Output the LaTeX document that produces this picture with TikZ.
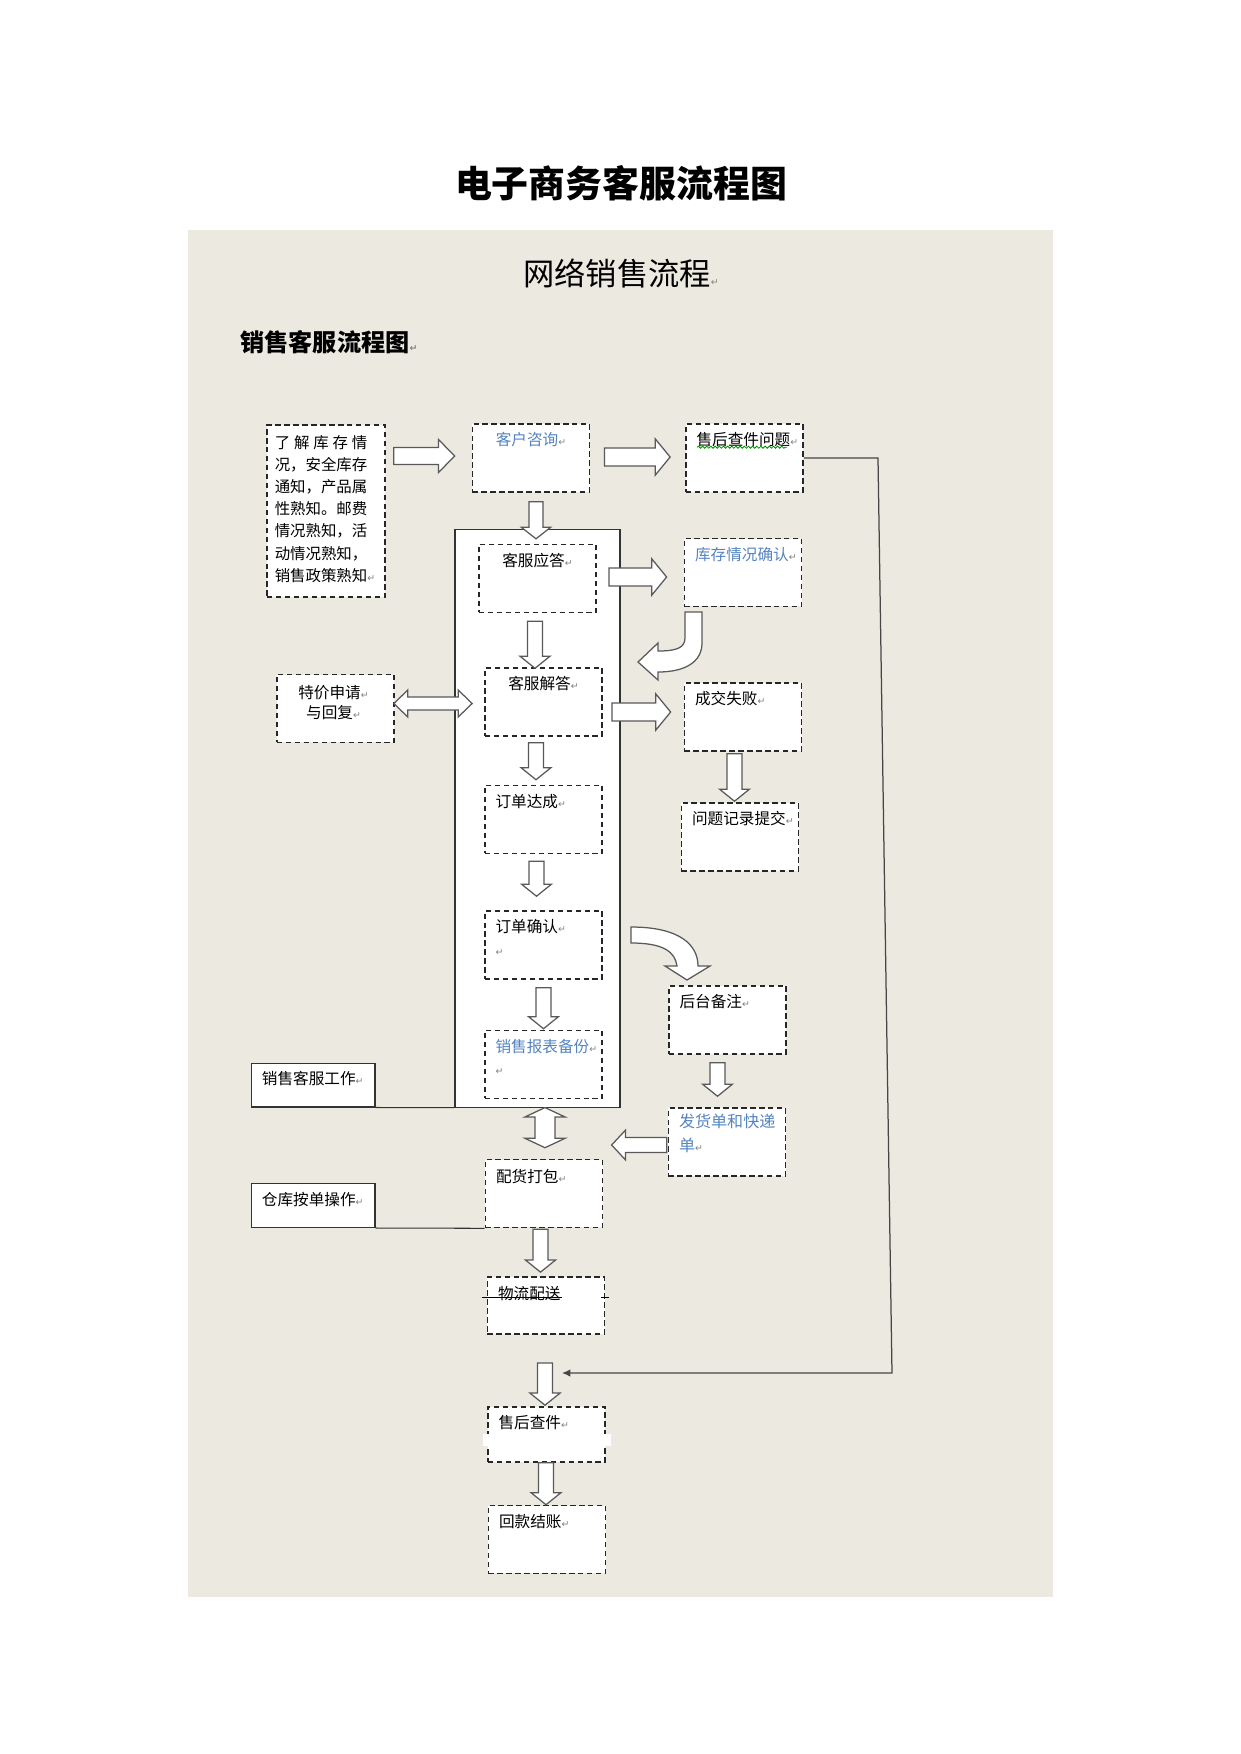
\documentclass[tikz,border=0pt]{standalone}
\usepackage{fontspec}
\setmainfont{Noto Sans CJK SC}
\newfontfamily\dejavu{DejaVu Sans}
\usepackage{tikz}
\usetikzlibrary{positioning, calc, arrows.meta, decorations.pathmorphing}

\definecolor{bgbeige}{RGB}{236,233,224}
\definecolor{txtblue}{RGB}{84,132,192}
\definecolor{linegray}{RGB}{70,70,70}

% 段落标记
\newcommand{\pmark}{{\dejavu\fontsize{4.5}{5}\selectfont\color{gray}↵}}

% 空心块箭头：轴半宽, 头半宽, 头长, 尾, 尖
\newcommand{\blkarr}[5]{%
  \path #4 coordinate (bt) #5 coordinate (bh);
  \path ($(bh)!#3!(bt)$) coordinate (bb);
  \draw[blk] ($(bt)!#1!90:(bh)$) -- ($(bb)!#1!90:(bh)$) -- ($(bb)!#2!90:(bh)$) -- (bh)
    -- ($(bb)!#2!-90:(bh)$) -- ($(bb)!#1!-90:(bh)$) -- ($(bt)!#1!-90:(bh)$) -- cycle;}
\newcommand{\vblk}[2]{\blkarr{3.6pt}{7.2pt}{5.8pt}{#1}{#2}}
\newcommand{\hblk}[2]{\blkarr{4.3pt}{8.8pt}{7.2pt}{#1}{#2}}

% 双向块箭头：轴半宽, 头半宽, 头长, 端点1, 端点2
\newcommand{\dblarr}[5]{%
  \path #4 coordinate (da) #5 coordinate (db);
  \path ($(da)!#3!(db)$) coordinate (dA) ($(db)!#3!(da)$) coordinate (dB);
  \draw[blk] (da) -- ($(dA)!#2!90:(db)$) -- ($(dA)!#1!90:(db)$) -- ($(dB)!#1!-90:(da)$)
    -- ($(dB)!#2!-90:(da)$) -- (db) -- ($(dB)!#2!90:(da)$) -- ($(dB)!#1!90:(da)$)
    -- ($(dA)!#1!-90:(db)$) -- ($(dA)!#2!-90:(db)$) -- cycle;}

\tikzset{
  dbox/.style={draw=black!85, line width=0.8pt, dash pattern=on 2.6pt off 1.7pt,
    fill=white, minimum width=56.2pt, minimum height=32.6pt, inner sep=0pt},
  sbox/.style={draw=black!80, line width=0.5pt, fill=white,
    minimum width=59.5pt, minimum height=21.1pt, inner sep=0pt},
  blk/.style={draw=black!65, fill=white, line width=0.6pt, line join=miter},
  txt/.style={inner sep=0pt, text=black, font=\fontsize{7.5}{9.5}\selectfont},
  btxt/.style={txt, anchor=west, xshift=5.3pt, yshift=-7.9pt},
  ctxt/.style={txt, anchor=center, yshift=-8pt},
}

\begin{document}
\begin{tikzpicture}[x=0.48pt, y=-0.48pt]
  \useasboundingbox (0,0) rectangle (1241,1754);
  \fill[white] (0,0) rectangle (1241,1754);
  \fill[bgbeige] (188,230) rectangle (1053,1597);

  % 标题
  \node[inner sep=0pt, font=\fontsize{17.7}{20}\selectfont\bfseries] (title) at (621,183) {电子商务客服流程图};
  \node[inner sep=0pt, anchor=west, font=\fontsize{15}{18}\selectfont] (subtitle) at (523,273) {网络销售流程\pmark};
  \node[inner sep=0pt, anchor=west, font=\fontsize{11.6}{14}\selectfont\bfseries] (heading) at (240,342) {销售客服流程图\pmark};

  % 销售客服外框
  \node[draw=black!80, line width=0.5pt, fill=white, minimum width=79.2pt,
    minimum height=277pt, inner sep=0pt] (frame) at (537.5,818.5) {};

  % 虚线框
  \node[dbox, minimum width=56.6pt, minimum height=82.6pt] (info) at (326,511) {};
  \node[dbox] (khzx) at (531,458) {};
  \node[dbox] (shwt) at (744.5,458) {};
  \node[dbox] (kfyd) at (537.5,578.5) {};
  \node[dbox] (kfjd) at (543.5,702) {};
  \node[dbox] (ddcd) at (543.5,819.5) {};
  \node[dbox] (ddqr) at (543.5,945) {};
  \node[dbox] (xsbb) at (543.5,1064.5) {};
  \node[dbox] (kcqr) at (743,572.5) {};
  \node[dbox] (cjsb) at (743,717) {};
  \node[dbox] (wtjl) at (740,837) {};
  \node[dbox] (tjsq) at (335.5,708.5) {};
  \node[dbox] (htbz) at (727.5,1020) {};
  \node[dbox] (fhd) at (727,1142) {};
  \node[dbox] (phdb) at (544,1193.5) {};
  \node[dbox, minimum height=27.4pt] (wlps) at (546,1305.5) {};
  \node[dbox, minimum height=26.4pt] (shcj) at (546.5,1434.5) {};
  \node[dbox] (hkjz) at (547,1539.5) {};
  \fill[white] ($(shcj.north west)+(-4,28)$) rectangle ($(shcj.north east)+(5,40)$);

  % 实线框
  \node[sbox] (xskf) at (313,1085) {};
  \node[sbox] (ckad) at (313,1205.5) {};
  \draw[black!80, line width=0.5pt] (xskf.south east) -- (frame.south west);
  \draw[black!80, line width=0.5pt] (ckad.south east) -- (phdb.south west);

  % 块箭头
  \blkarr{4.1pt}{7.9pt}{7.7pt}{($(info.east |- khzx.west)+(8,-2)$)}{($(khzx.west)+(-17,-2)$)}
  \hblk{($(khzx.east)+(14,-1)$)}{($(shwt.west)+(-15,-1)$)}
  \blkarr{3.4pt}{7pt}{5.5pt}{($(khzx.south)+(5,9)$)}{($(khzx.south)+(5,46)$)}
  \vblk{($(kfyd.south)+(-2.5,8)$)}{($(kfyd.south)+(-2.5,55)$)}
  \vblk{($(kfjd.south)+(-7.5,6)$)}{($(ddcd.north)+(-7.5,-5)$)}
  \vblk{($(ddcd.south)+(-7,7)$)}{($(ddqr.north)+(-7,-14)$)}
  \vblk{($(ddqr.south)+(0,8)$)}{($(xsbb.north)+(0,-1)$)}
  \vblk{($(cjsb.south)+(-8.5,2)$)}{($(wtjl.north)+(-5.5,-1)$)}
  \vblk{($(htbz.south)+(-10,8)$)}{($(fhd.north)+(-9.5,-11)$)}
  \blkarr{3.6pt}{7.2pt}{6.7pt}{($(fhd.west)+(-1,3)$)}{($(fhd.west)+(-56,3)$)}
  \vblk{($(phdb.south)+(-3.5,1)$)}{($(wlps.north)+(-5.5,-4)$)}
  \vblk{($(wlps.south)+(-1,28)$)}{($(shcj.north)+(-1.5,-1)$)}
  \vblk{($(shcj.south)+(-0.5,0)$)}{($(hkjz.north)+(-1,0)$)}
  \hblk{($(kfyd.east)+(12,-1.5)$)}{($(kcqr.west)+(-17,4.5)$)}
  \hblk{($(kfjd.east)+(9,10)$)}{($(cjsb.west)+(-13,-5)$)}
  \dblarr{3.1pt}{6.5pt}{6.7pt}{($(tjsq.east)+(-1,-5)$)}{($(kfjd.west)+(-12,1.5)$)}
  \dblarr{4.8pt}{9.6pt}{4.5pt}{($(frame.south)+(7.5,0)$)}{($(phdb.north)+(1,-11)$)}

  % 弯箭头
  \draw[blk] (685,612) -- (702,612) -- (702,643) .. controls (702,662) and (685,672) .. (658,672)
    -- (658,680) -- (638,662) -- (658,643) -- (658,651) .. controls (676,651) and (685,648) .. (685,638) -- cycle;
  \draw[blk] (631,927) .. controls (680,927) and (698,945) .. (698,966) -- (710,966) -- (687,980)
    -- (665,966) -- (677,966) .. controls (675,952) and (664,943) .. (631,943) -- cycle;

  % 售后查件反馈线
  \coordinate (fbtop) at (878,458);
  \coordinate (fbbot) at (892,1373);
  \coordinate (fbend) at (562,1373);
  \draw[linegray, line width=0.6pt, -{Latex[length=4pt,width=3.6pt]}] (shwt.east) -- (fbtop) -- (fbbot) -- (fbend);

  % 文字
  \node[txt, align=left, font=\fontsize{7.4}{10.6}\selectfont] (infotxt) at (325,509) {\makebox[44.4pt][s]{了 解 库 存 情}\\况，安全库存\\通知，产品属\\性熟知。邮费\\情况熟知，活\\动情况熟知，\\销售政策熟知\pmark};
  \node[ctxt, text=txtblue] (t_khzx) at (khzx.north) {客户咨询\pmark};
  \node[btxt] (t_shwt) at (shwt.north west) {售后查件问题\pmark};
  \draw[green!55!black, line width=0.4pt, decorate, decoration={snake, amplitude=0.5pt, segment length=2pt}]
    ($(shwt.north west)+(12,24)$) -- ++(90,0);
  \node[ctxt] (t_kfyd) at (kfyd.north) {客服应答\pmark};
  \node[ctxt] (t_kfjd) at (kfjd.north) {客服解答\pmark};
  \node[btxt] (t_ddcd) at (ddcd.north west) {订单达成\pmark};
  \node[btxt, align=left, yshift=-5.1pt, font=\fontsize{7.5}{10.8}\selectfont] (t_ddqr) at (ddqr.north west) {订单确认\pmark\\\pmark};
  \node[btxt, align=left, yshift=-5.2pt, text=txtblue, font=\fontsize{7.5}{10.8}\selectfont] (t_xsbb) at (xsbb.north west) {销售报表备份\pmark\\\pmark};
  \node[btxt, text=txtblue] (t_kcqr) at (kcqr.north west) {库存情况确认\pmark};
  \node[btxt] (t_cjsb) at (cjsb.north west) {成交失败\pmark};
  \node[btxt] (t_wtjl) at (wtjl.north west) {问题记录提交\pmark};
  \node[txt, align=center, font=\fontsize{7.5}{10}\selectfont] (t_tjsq) at ($(tjsq.center)+(-2,-6)$) {特价申请\pmark\\与回复\pmark};
  \node[btxt] (t_htbz) at (htbz.north west) {后台备注\pmark};
  \node[btxt, align=left, yshift=-4.6pt, text=txtblue, font=\fontsize{7.7}{11.5}\selectfont] (t_fhd) at (fhd.north west) {发货单和快递\\单\pmark};
  \node[btxt, yshift=-0.6pt] (t_phdb) at (phdb.north west) {配货打包\pmark};
  \node[btxt, yshift=-0.6pt] (t_wlps) at (wlps.north west) {物流配送};
  \draw[black, line width=0.6pt] ($(wlps.north west)+(-5,21)$) -- ++(80,0);
  \draw[black, line width=0.6pt] ($(wlps.north east)+(-4,21)$) -- ++(8,0);
  \node[btxt] (t_shcj) at (shcj.north west) {售后查件\pmark};
  \node[btxt] (t_hkjz) at (hkjz.north west) {回款结账\pmark};
  \node[btxt] (t_xskf) at (xskf.north west) {销售客服工作\pmark};
  \node[btxt] (t_ckad) at (ckad.north west) {仓库按单操作\pmark};
\end{tikzpicture}
\end{document}
